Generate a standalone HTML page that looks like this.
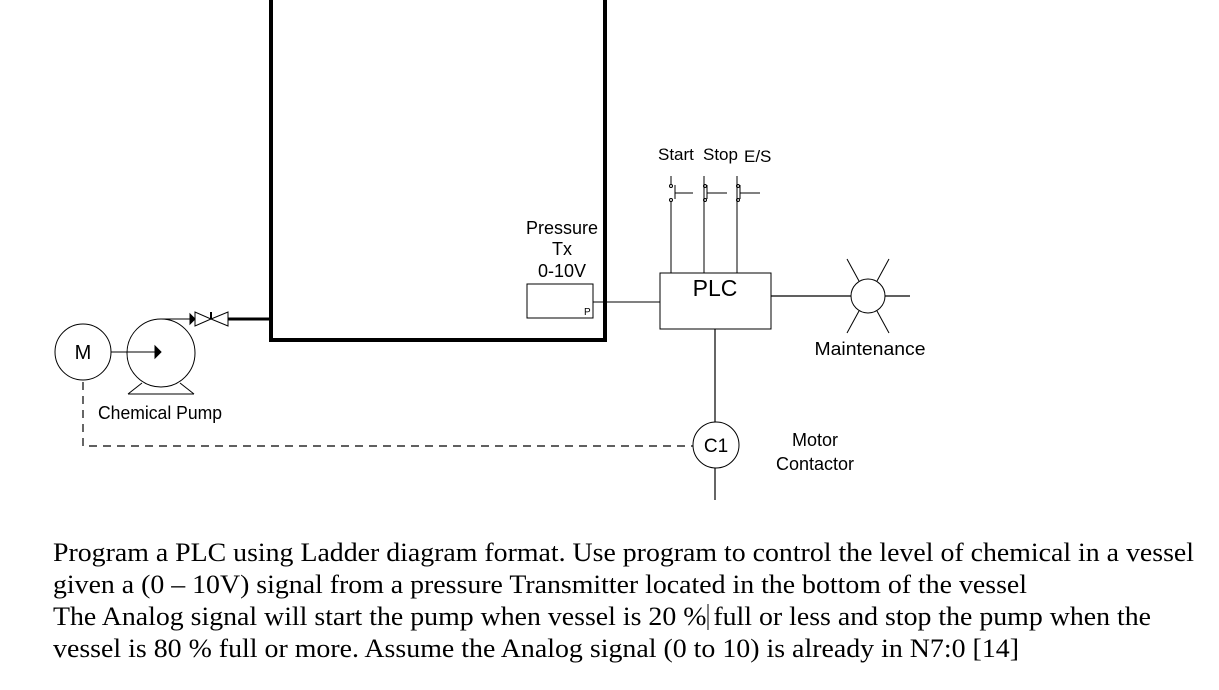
<!DOCTYPE html>
<html><head><meta charset="utf-8"><style>
html,body{margin:0;padding:0;background:#fff;width:1219px;height:690px;overflow:hidden}
svg text{font-family:"Liberation Sans",sans-serif}
.s{font-family:"Liberation Serif",serif !important;font-size:26px}
</style></head><body>
<svg width="1219" height="690" viewBox="0 0 1219 690" xmlns="http://www.w3.org/2000/svg">
<g fill="none" stroke="#000">
<polyline points="271,0 271,340 605,340 605,0" stroke-width="4"/>
<line x1="228" y1="319" x2="271" y2="319" stroke-width="3"/>
<polygon points="195,312 195,326 211,319" stroke-width="1"/>
<polygon points="228,312 228,326 211,319" stroke-width="1"/>
<line x1="211" y1="312" x2="211" y2="319" stroke-width="2"/>
<circle cx="161" cy="353" r="34" stroke-width="1"/>
<line x1="161" y1="319" x2="190" y2="319" stroke-width="1"/>
<polygon points="190,314 195,319 190,324" fill="#000"/>
<polyline points="128,394 142,383" stroke-width="1"/>
<polyline points="194,394 180,383" stroke-width="1"/>
<line x1="128" y1="394" x2="194" y2="394" stroke-width="1"/>
<circle cx="83" cy="352" r="28" stroke-width="1"/>
<line x1="111" y1="352" x2="155" y2="352" stroke-width="1"/>
<polygon points="155,346 161,352 155,358" fill="#000"/>
<polyline points="83,382 83,446 693,446" stroke-width="1.2" stroke-dasharray="8,6"/>
<circle cx="716" cy="445" r="23" stroke-width="1"/>
<line x1="715" y1="329" x2="715" y2="422" stroke-width="1.2"/>
<line x1="715" y1="468" x2="715" y2="500" stroke-width="1.2"/>
<rect x="527" y="284" width="66" height="34" stroke-width="1"/>
<line x1="593" y1="302" x2="660" y2="302" stroke-width="1"/>
<rect x="660" y="273" width="111" height="56" stroke-width="1"/>
<line x1="771" y1="296" x2="851" y2="296" stroke-width="1.2"/>
<circle cx="868" cy="296" r="17" stroke-width="1"/>
<line x1="885" y1="296" x2="910" y2="296" stroke-width="1.2"/>
<line x1="847" y1="259" x2="859" y2="281" stroke-width="1"/>
<line x1="889" y1="259" x2="877" y2="281" stroke-width="1"/>
<line x1="847" y1="333" x2="859" y2="311" stroke-width="1"/>
<line x1="889" y1="333" x2="877" y2="311" stroke-width="1"/>
<g stroke-width="1">
<line x1="671" y1="176" x2="671" y2="184"/><line x1="671" y1="201" x2="671" y2="273"/>
<line x1="675" y1="185" x2="675" y2="199"/><line x1="675" y1="193" x2="693" y2="193"/>
<circle cx="671" cy="186" r="1.5"/><circle cx="671" cy="200" r="1.5"/>
<line x1="704" y1="176" x2="704" y2="273"/>
<line x1="707" y1="185" x2="707" y2="199"/><line x1="707" y1="193" x2="727" y2="193"/>
<circle cx="705" cy="186" r="1.5"/><circle cx="705" cy="200" r="1.5"/>
<line x1="737" y1="176" x2="737" y2="273"/>
<line x1="740" y1="185" x2="740" y2="199"/><line x1="740" y1="193" x2="760" y2="193"/>
<circle cx="738" cy="186" r="1.5"/><circle cx="738" cy="200" r="1.5"/>
</g>
</g>
<g fill="#000" font-size="18">
<text x="83" y="359" text-anchor="middle" font-size="20">M</text>
<text x="98" y="419" textLength="124" lengthAdjust="spacingAndGlyphs">Chemical Pump</text>
<text x="716" y="452" text-anchor="middle" font-size="19">C1</text>
<text x="815" y="446" text-anchor="middle">Motor</text>
<text x="815" y="470" text-anchor="middle">Contactor</text>
<text x="562" y="234" text-anchor="middle">Pressure</text>
<text x="562" y="255" text-anchor="middle">Tx</text>
<text x="562" y="277" text-anchor="middle">0-10V</text>
<text x="584" y="315" font-size="10">P</text>
<text x="715" y="296" text-anchor="middle" font-size="23">PLC</text>
<text x="870" y="355" text-anchor="middle" textLength="111" lengthAdjust="spacingAndGlyphs">Maintenance</text>
<text x="658" y="160" font-size="17">Start</text>
<text x="703" y="160" font-size="17">Stop</text>
<text x="744" y="162" font-size="17">E/S</text>
<text class="s" x="53" y="561" textLength="1141" lengthAdjust="spacingAndGlyphs">Program a PLC using Ladder diagram format. Use program to control the level of chemical in a vessel</text>
<text class="s" x="53" y="593" textLength="974" lengthAdjust="spacingAndGlyphs">given a (0 – 10V) signal from a pressure Transmitter located in the bottom of the vessel</text>
<text class="s" x="53" y="625" textLength="1098" lengthAdjust="spacingAndGlyphs">The Analog signal will start the pump when vessel is 20 % full or less and stop the pump when the</text>
<text class="s" x="53" y="657" textLength="966" lengthAdjust="spacingAndGlyphs">vessel is 80 % full or more. Assume the Analog signal (0 to 10) is already in N7:0 [14]</text>
</g>
<line x1="708" y1="604" x2="708" y2="630" stroke="#000" stroke-width="1"/>
</svg>
</body></html>
